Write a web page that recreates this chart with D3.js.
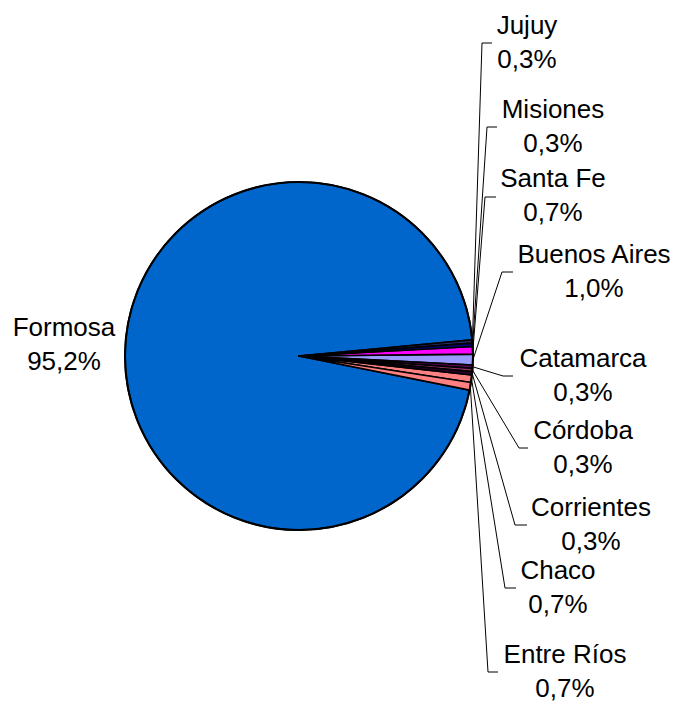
<!DOCTYPE html>
<html>
<head>
<meta charset="utf-8">
<script src="https://cdn.jsdelivr.net/npm/d3@7"></script>
<style>
  html, body { margin: 0; padding: 0; background: #fff; }
  svg { display: block; }
  text { font-family: "Liberation Sans", Arial, sans-serif; fill: #000; }
</style>
</head>
<body>
<svg id="chart" width="677" height="702"></svg>
<script>
// ---- data ----
const provinces = ["Jujuy", "Misiones", "Santa Fe", "Buenos Aires", "Catamarca", "Córdoba", "Corrientes", "Chaco", "Entre Ríos", "Formosa"];
const shares = [0.3, 0.3, 0.7, 1.0, 0.3, 0.3, 0.3, 0.7, 0.7, 95.2];
const sliceColors = ["#2b2b70", "#000080", "#FF00FF", "#9999FF", "#660066", "#993366", "#330033", "#FF8080", "#FF8080", "#0066CC"];

// ---- label layout (text centre, first baseline, leader elbow) ----
const labelLayout = [
  { cx: 527, y: 34,  ty: 43,  x1: 482, x2: 492 },
  { cx: 553, y: 118, ty: 127, x1: 487, x2: 497 },
  { cx: 553, y: 187, ty: 197, x1: 485, x2: 496 },
  { cx: 594, y: 263, ty: 272, x1: 502, x2: 513 },
  { cx: 583, y: 367, ty: 376, x1: 503, x2: 513 },
  { cx: 583, y: 439, ty: 448, x1: 519, x2: 528 },
  { cx: 591, y: 516, ty: 525, x1: 515, x2: 527 },
  { cx: 558, y: 579, ty: 588, x1: 505, x2: 516 },
  { cx: 565, y: 663, ty: 672, x1: 488, x2: 498 },
  { cx: 64,  y: 336, ty: null }
];

const data = provinces.map((p, i) => ({ name: p, value: shares[i], color: sliceColors[i], lab: labelLayout[i] }));

const svg = d3.select("#chart");
const cx = 299, cy = 356, R = 174;
const lineGap = 34;
const fontSize = 26;

const start = 84.7 * Math.PI / 180;
const pie = d3.pie().value(d => d.value).sort(null).startAngle(start).endAngle(start + 2 * Math.PI);
const arcs = pie(data);
const arc = d3.arc().innerRadius(0).outerRadius(R);

const g = svg.append("g").attr("transform", `translate(${cx},${cy})`);

// draw Formosa first (big), then small slices on top
const order = arcs.slice().sort((a, b) => b.value - a.value);
g.selectAll("path.slice")
  .data(order)
  .join("path")
  .attr("class", "slice")
  .attr("d", arc)
  .attr("fill", d => d.data.color)
  .attr("stroke", "#000")
  .attr("stroke-width", 1.7)
  .attr("stroke-linejoin", "round");

// outer outline
g.append("circle").attr("r", R).attr("fill", "none").attr("stroke", "#000").attr("stroke-width", 2);

// leader lines
const fmt = v => d3.format(".1f")(v).replace(".", ",") + "%";
arcs.forEach(a => {
  const L = a.data.lab;
  if (L.ty === null) return;
  const mid = (a.startAngle + a.endAngle) / 2;
  const px = cx + R * Math.sin(mid), py = cy - R * Math.cos(mid);
  svg.append("polyline")
    .attr("points", `${px},${py} ${L.x1},${L.ty} ${L.x2},${L.ty}`)
    .attr("fill", "none")
    .attr("stroke", "#000")
    .attr("stroke-width", 1);
});

// labels
arcs.forEach(a => {
  const L = a.data.lab;
  const t = svg.append("text")
    .attr("text-anchor", "middle")
    .attr("font-size", fontSize);
  t.append("tspan").attr("x", L.cx).attr("y", L.y).text(a.data.name);
  t.append("tspan").attr("x", L.cx).attr("y", L.y + lineGap).text(fmt(a.data.value));
});
</script>
</body>
</html>
